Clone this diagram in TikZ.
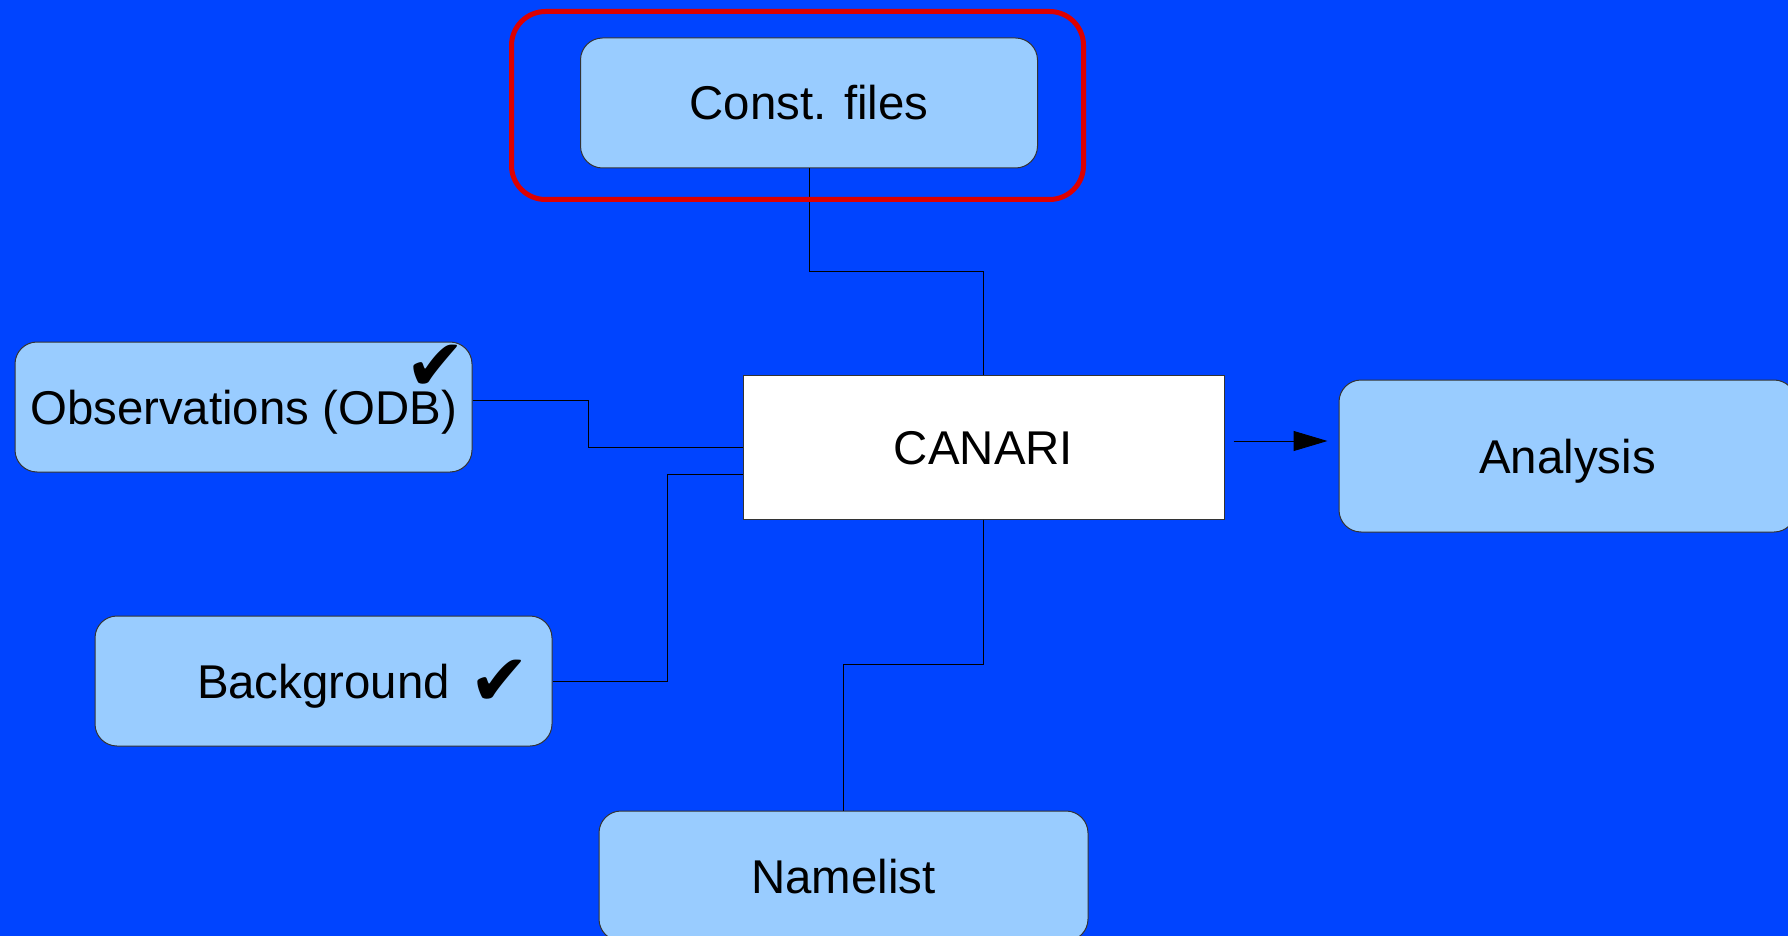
\documentclass[tikz,border=0pt]{standalone}
\usepackage{fontspec}
\setmainfont{Liberation Sans}
\newfontfamily\dejavu{DejaVu Sans}
\usetikzlibrary{arrows.meta}
\definecolor{slideblue}{RGB}{0,68,255}
\definecolor{boxblue}{RGB}{153,204,255}
\definecolor{framered}{RGB}{221,0,0}
\newcommand{\okmark}{{\dejavu\fontsize{36}{40}\selectfont ✔}}

\begin{document}
\begin{tikzpicture}[x=0.5pt,y=-0.5pt,
  infile/.style={draw=black!80, line width=0.5pt, fill=boxblue, rounded corners=11pt,
    minimum width=228.5pt, minimum height=65pt, inner sep=0pt,
    text height=17pt, text depth=0pt,
    font=\fontsize{23.7}{28}\selectfont},
  link/.style={line width=0.5pt}]
\useasboundingbox (0,0) rectangle (1788,936);
% slide background
\fill[slideblue] (0,0) rectangle (1788,936);

% input files
\node (const) [infile] at (809,103) {Const. files};
\node (obs) [infile] at (243.5,407) {Observations (ODB)};
\node (bg) [infile] at (323.5,681) {Background};
\node (namelist) [infile, minimum width=244.5pt] at (843.5,876) {Namelist};

% the program
\node (canari) [draw=black!80, line width=0.5pt, fill=white, inner sep=0pt,
  minimum width=240.5pt, minimum height=72pt, text height=17pt, text depth=0pt,
  font=\fontsize{23.7}{28}\selectfont] at (983.5,447) {CANARI};

% output
\node (analysis) [infile, minimum height=76pt] at (1567.5,456) {Analysis};

% ticks
\node (obstick) at (436,368) {\okmark};
\node (bgtick) at (500,683) {\okmark};

% connectors
\draw[link] (const.south) -- ++(0,103) -| (canari.north);
\draw[link] ([yshift=3.5pt]obs.east) -- ++(116,0) |- (canari.west);
\draw[link] (bg.east) -- ++(115,0) |- ([yshift=-13.5pt]canari.west);
\draw[link] (canari.south) -- ++(0,145) -| (namelist.north);
\draw[link, shorten <=4.5pt, shorten >=5.5pt, -{Triangle[length=17pt,width=10pt]}]
  ([yshift=3pt]canari.east) -- ([yshift=3pt]canari.east -| analysis.west);

% highlight
\node (frame) [draw=framered, line width=2.5pt, rounded corners=17pt,
  minimum width=286pt, minimum height=94pt] at (797.5,105.5) {};

\end{tikzpicture}
\end{document}
